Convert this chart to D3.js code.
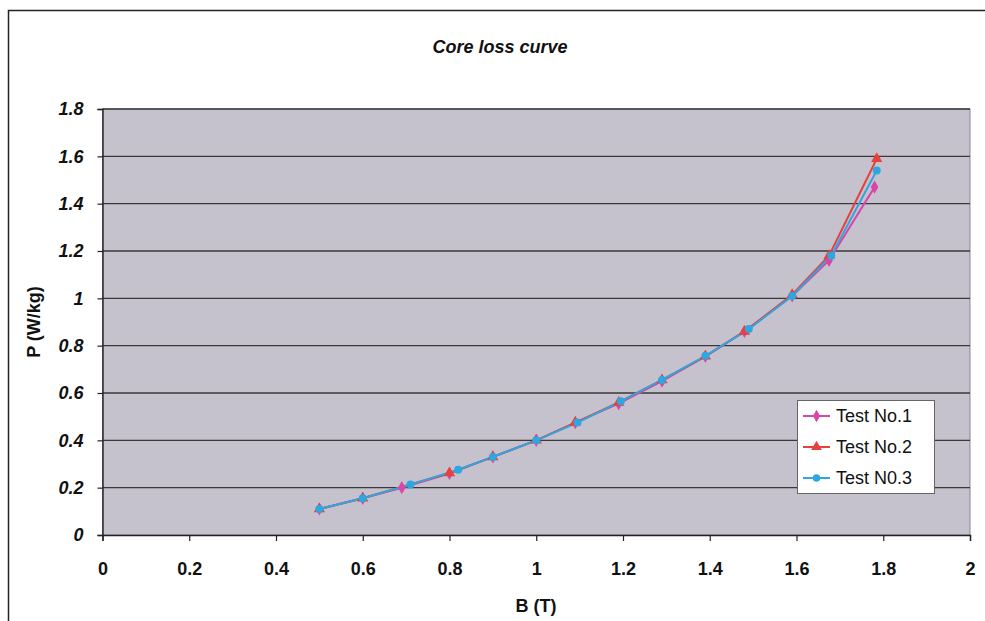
<!DOCTYPE html>
<html><head><meta charset="utf-8">
<script src="https://cdn.jsdelivr.net/npm/d3@7"></script>
<style>body{margin:0;background:#fff}svg{display:block}</style>
</head><body>
<svg id="c" width="985" height="621"></svg>
<script>
const title = "Core loss curve";
const xLabel = "B (T)";
const yLabel = "P (W/kg)";
const xTicks = [0,0.2,0.4,0.6,0.8,1,1.2,1.4,1.6,1.8,2];
const yTicks = [0,0.2,0.4,0.6,0.8,1,1.2,1.4,1.6,1.8];
const seriesNames = ["Test No.1","Test No.2","Test N0.3"];
const test1B = [0.5,0.6,0.69,0.8,0.9,1.0,1.09,1.19,1.29,1.39,1.48,1.59,1.675,1.78];
const test1P = [0.11,0.155,0.2,0.26,0.33,0.4,0.475,0.555,0.65,0.755,0.86,1.01,1.16,1.47];
const test2B = [0.5,0.6,0.8,0.9,1.0,1.09,1.19,1.29,1.39,1.48,1.59,1.675,1.785];
const test2P = [0.11,0.155,0.262,0.33,0.4,0.475,0.56,0.655,0.755,0.86,1.015,1.18,1.59];
const test3B = [0.5,0.6,0.71,0.82,0.9,1.0,1.095,1.195,1.29,1.39,1.49,1.59,1.68,1.785];
const test3P = [0.11,0.155,0.213,0.276,0.33,0.4,0.475,0.565,0.655,0.757,0.87,1.01,1.18,1.54];

const colors = ["#d946a8","#e5423c","#2ea6df"];
const shapes = [d3.symbolDiamond, d3.symbolTriangle, d3.symbolCircle];
const series = [
  {name: seriesNames[0], pts: test1B.map((b,i)=>[b,test1P[i]])},
  {name: seriesNames[1], pts: test2B.map((b,i)=>[b,test2P[i]])},
  {name: seriesNames[2], pts: test3B.map((b,i)=>[b,test3P[i]])}
];

const svg = d3.select("#c");
const L=102.5, R=970, T=109, B=535;
const x = d3.scaleLinear().domain([0,2]).range([L,R]);
const y = d3.scaleLinear().domain([0,1.8]).range([B,T]);
const font = "'Liberation Sans', Arial, sans-serif";

// outer frame
svg.append("rect").attr("x",8.5).attr("y",10.5).attr("width",990).attr("height",620)
  .attr("fill","#fff").attr("stroke","#222").attr("stroke-width",1.5);

svg.append("text").attr("x",500).attr("y",53).attr("text-anchor","middle")
  .attr("font-family",font).attr("font-weight","bold").attr("font-style","italic")
  .attr("font-size",18).attr("fill","#111").text(title);

// plot area
svg.append("rect").attr("x",L).attr("y",T).attr("width",R-L).attr("height",B-T)
  .attr("fill","#c6c2cd").attr("stroke","#8a8790").attr("stroke-width",1);

// gridlines
svg.append("g").selectAll("line").data(yTicks.filter(v=>v>0)).join("line")
  .attr("x1",L).attr("x2",R).attr("y1",d=>y(d)).attr("y2",d=>y(d))
  .attr("stroke","#3a3838").attr("stroke-width",1.4);

// axes
const xAxis = d3.axisBottom(x).tickValues(xTicks).tickSize(6).tickFormat(d=>String(d));
const gx = svg.append("g").attr("transform",`translate(0,${B})`).call(xAxis);
gx.select(".domain").attr("stroke","#222").attr("stroke-width",1.4);
gx.selectAll(".tick line").attr("stroke","#222").attr("stroke-width",1.2);
gx.selectAll("text").attr("font-family",font).attr("font-weight","bold")
  .attr("font-size",18).attr("fill","#111").attr("y",27).attr("dy","0.71em");

const yAxis = d3.axisLeft(y).tickValues(yTicks).tickSize(5).tickFormat(d=>String(d));
const gy = svg.append("g").attr("transform",`translate(${L},0)`).call(yAxis);
gy.select(".domain").attr("stroke","#222").attr("stroke-width",1.4);
gy.selectAll(".tick line").attr("stroke","#222").attr("stroke-width",1.2);
gy.selectAll("text").attr("font-family",font).attr("font-weight","bold").attr("font-style","italic")
  .attr("font-size",18).attr("fill","#111").attr("x",-19);

svg.append("text").attr("x",536).attr("y",612).attr("text-anchor","middle")
  .attr("font-family",font).attr("font-weight","bold").attr("font-size",18).attr("fill","#111").text(xLabel);
svg.append("text").attr("transform",`translate(40,${(T+B)/2}) rotate(-90)`).attr("text-anchor","middle")
  .attr("font-family",font).attr("font-weight","bold").attr("font-size",18).attr("fill","#111").text(yLabel);

// series
const line = d3.line().x(d=>x(d[0])).y(d=>y(d[1]));
series.forEach((s,i)=>{
  svg.append("path").datum(s.pts).attr("d",line).attr("fill","none")
    .attr("stroke",colors[i]).attr("stroke-width",2);
});
series.forEach((s,i)=>{
  svg.append("g").selectAll("path").data(s.pts).join("path")
    .attr("transform",d=>`translate(${x(d[0])},${y(d[1])})`)
    .attr("d",d3.symbol().type(shapes[i]).size(i===1?55:50))
    .attr("fill",colors[i]);
});

// legend
const lg = svg.append("g");
lg.append("rect").attr("x",797.5).attr("y",400.5).attr("width",137).attr("height",93)
  .attr("fill","#fff").attr("stroke","#666").attr("stroke-width",1);
seriesNames.forEach((n,i)=>{
  const yy = 416 + i*31;
  lg.append("line").attr("x1",803).attr("x2",830).attr("y1",yy).attr("y2",yy)
    .attr("stroke",colors[i]).attr("stroke-width",2);
  lg.append("path").attr("transform",`translate(816.5,${yy})`)
    .attr("d",d3.symbol().type(shapes[i]).size(i===1?50:45)).attr("fill",colors[i]);
  lg.append("text").attr("x",836).attr("y",yy+6).attr("font-family",font)
    .attr("font-size",18).attr("fill","#111").text(n);
});
</script>
</body></html>
